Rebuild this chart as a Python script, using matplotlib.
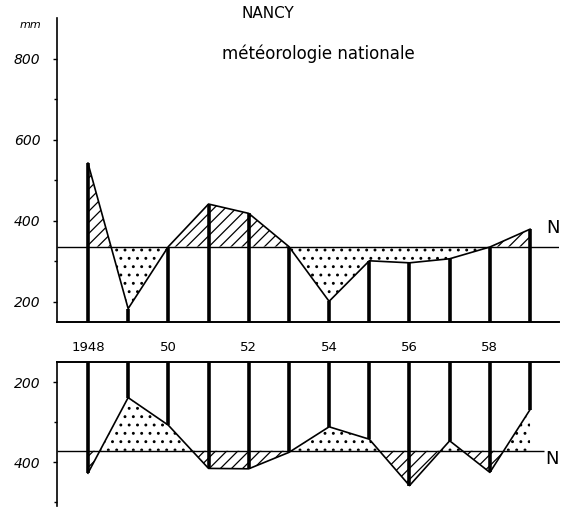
import numpy as np
import matplotlib
matplotlib.use("Agg")
import matplotlib.pyplot as plt

# data (mm)
years = [1948, 1949, 1950, 1951, 1952, 1953, 1954, 1955, 1956, 1957, 1958, 1959]
rain = [542, 183, 336, 441, 418, 336, 201, 301, 296, 306, 335, 379]     # upper panel
lower = [428, 239, 308, 416, 417, 376, 312, 343, 459, 347, 426, 269]    # lower panel (axis inverted)
N_rain = 336
N_lower = 372
year_ticks = [1948, 1950, 1952, 1954, 1956, 1958]
year_labels = ["1948", "50", "52", "54", "56", "58"]

plt.rcParams["font.family"] = ["DejaVu Sans"]
plt.rcParams["hatch.linewidth"] = 0.9

W, H = 566, 511
fig = plt.figure(figsize=(W / 100, H / 100), dpi=100)
x0, x1 = 1947.23, 1959.72
base = 150

def panel(ax, vals, N, nline_end):
    x = np.array(years, dtype=float)
    v = np.array(vals, dtype=float)
    ax.fill_between(x, v, N, where=v >= N, interpolate=True,
                    facecolor="none", edgecolor="black", hatch="///", linewidth=0)
    ax.fill_between(x, v, N, where=v <= N, interpolate=True,
                    facecolor="none", edgecolor="black", hatch="..", linewidth=0)
    ax.vlines(x, base, v, color="black", lw=2.6)
    ax.plot(x, v, color="black", lw=1.2)
    ax.hlines(N, x0, nline_end, color="black", lw=1.0)
    ax.set_xlim(x0, x1)
    ax.spines["right"].set_visible(False)
    ax.spines["left"].set_linewidth(1.2)
    ax.tick_params(axis="y", which="major", direction="out", length=3, width=1,
                   pad=9, labelsize=10)
    ax.tick_params(axis="y", which="minor", direction="out", length=2, width=1)

# upper panel: rainfall
ax1 = fig.add_axes([57 / W, (H - 322) / H, (559 - 57) / W, (322 - 18) / H])
panel(ax1, rain, N_rain, x1)
ax1.set_ylim(base, 900)
ax1.spines["top"].set_visible(False)
ax1.spines["bottom"].set_linewidth(1.4)
ax1.set_yticks([200, 400, 600, 800])
ax1.set_yticks([300, 500, 700], minor=True)
for lab in ax1.get_yticklabels():
    lab.set_fontstyle("italic")
ax1.set_xticks(year_ticks)
ax1.set_xticklabels(year_labels, fontsize=9.5)
ax1.tick_params(axis="x", length=0, pad=14)
ax1.text(1959.57, 383, "N", fontsize=13, ha="center", va="center", clip_on=False)

# lower panel: inverted
ax2 = fig.add_axes([57 / W, (H - 506) / H, (559 - 57) / W, (506 - 362) / H])
panel(ax2, lower, N_lower, 1959.35)
ax2.set_ylim(510, base)
ax2.spines["bottom"].set_visible(False)
ax2.spines["top"].set_linewidth(1.4)
ax2.set_yticks([200, 400])
ax2.set_yticks([300, 500], minor=True)
for lab in ax2.get_yticklabels():
    lab.set_fontstyle("italic")
ax2.set_xticks([])
ax2.text(1959.55, 392, "N", fontsize=13, ha="center", va="center", clip_on=False)

fig.text(268 / W, 1 - 13 / H, "NANCY", fontsize=11, ha="center", va="center")
fig.text(318 / W, 1 - 54 / H, "météorologie nationale", fontsize=12, ha="center", va="center")
fig.text(30 / W, 1 - 25 / H, "mm", fontsize=8, style="italic", ha="center", va="center")

fig.savefig("out.png", dpi=100)
